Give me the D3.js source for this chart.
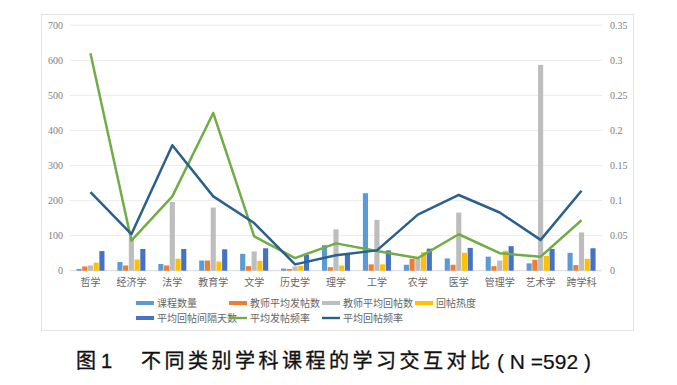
<!DOCTYPE html>
<html>
<head>
<meta charset="utf-8">
<script src="https://cdn.jsdelivr.net/npm/d3@7"></script>
<style>
  body { margin: 0; background: #fff; }
  svg { display: block; }
</style>
</head>
<body>
<svg id="chart" width="677" height="385"></svg>
<script>
const categories = ["哲学", "经济学", "法学", "教育学", "文学", "历史学", "理学", "工学", "农学", "医学", "管理学", "艺术学", "跨学科"];

// bar series (left axis)
const courseCount   = [5, 25, 19, 29, 48, 6, 73, 221, 17, 35, 40, 21, 51];
const teacherPosts  = [12, 15, 15, 29, 13, 5, 10, 18, 34, 17, 13, 31, 16];
const teacherReplies = [15, 95, 196, 180, 55, 12, 118, 145, 34, 166, 29, 587, 109];
const replyHeat     = [23, 32, 34, 26, 28, 14, 15, 18, 53, 51, 57, 42, 34];
const replyInterval = [56, 62, 62, 61, 64, 45, 50, 58, 63, 65, 70, 62, 64];

// line series (right axis)
const postFreq  = [0.310, 0.043, 0.106, 0.225, 0.049, 0.018, 0.039, 0.028, 0.018, 0.052, 0.025, 0.020, 0.072];
const replyFreq = [0.112, 0.052, 0.179, 0.106, 0.068, 0.009, 0.022, 0.029, 0.080, 0.108, 0.083, 0.044, 0.114];

const leftTicks = [0, 100, 200, 300, 400, 500, 600, 700];
const rightTicks = [0, 0.05, 0.1, 0.15, 0.2, 0.25, 0.3, 0.35];

const barSeries = [
  { name: "课程数量", values: courseCount, color: "#5B9BD5" },
  { name: "教师平均发帖数", values: teacherPosts, color: "#ED7D31" },
  { name: "教师平均回帖数", values: teacherReplies, color: "#BDBDBD" },
  { name: "回帖热度", values: replyHeat, color: "#FFC000" },
  { name: "平均回帖间隔天数", values: replyInterval, color: "#4472C4" }
];
const lineSeries = [
  { name: "平均发帖频率", values: postFreq, color: "#70AD47" },
  { name: "平均回帖频率", values: replyFreq, color: "#2B5F8C" }
];

const svg = d3.select("#chart");
const margin = { top: 25, right: 75, bottom: 114, left: 70 };
const width = 677, height = 385;

// outer frame
svg.append("rect")
  .attr("x", 41.5).attr("y", 14.5)
  .attr("width", 592).attr("height", 316)
  .attr("fill", "#fff")
  .attr("stroke", "#e3e3e3");

const x = d3.scaleBand()
  .domain(categories)
  .range([margin.left, width - margin.right])
  .paddingInner(0.3)
  .paddingOuter(0.15);

const xs = d3.scaleBand()
  .domain(barSeries.map(d => d.name))
  .range([0, x.bandwidth()]);

const yL = d3.scaleLinear().domain([0, 700]).range([270.7, 25.3]);
const yR = d3.scaleLinear().domain([0, 0.35]).range([270.7, 25.3]);

// gridlines
svg.append("g")
  .selectAll("line")
  .data(leftTicks)
  .join("line")
  .attr("x1", margin.left).attr("x2", width - margin.right)
  .attr("y1", d => yL(d)).attr("y2", d => yL(d))
  .attr("stroke", d => d === 0 ? "#d9d9d9" : "#ececec")
  .attr("stroke-width", 1);

// left axis
const axL = svg.append("g")
  .attr("transform", `translate(${margin.left - 5},0)`)
  .call(d3.axisLeft(yL).tickValues(leftTicks).tickSize(0).tickPadding(2));
axL.select(".domain").remove();
axL.selectAll("text")
  .attr("fill", "#808080")
  .style("font-family", "'Liberation Serif', serif")
  .style("font-size", "10px");

// right axis
const axR = svg.append("g")
  .attr("transform", `translate(${width - margin.right + 6},0)`)
  .call(d3.axisRight(yR).tickValues(rightTicks).tickSize(0).tickPadding(2).tickFormat(d => d3.format("")(+d.toFixed(2))));
axR.select(".domain").remove();
axR.selectAll("text")
  .attr("fill", "#808080")
  .style("font-family", "'Liberation Serif', serif")
  .style("font-size", "10px");

// x axis labels
const axX = svg.append("g")
  .attr("transform", `translate(0,${yL(0)})`)
  .call(d3.axisBottom(x).tickSize(0).tickPadding(8));
axX.select(".domain").remove();
axX.selectAll("text")
  .attr("fill", "#666")
  .style("font-family", "'Noto Sans CJK SC', sans-serif")
  .style("font-size", "10px");

// bars
const groups = svg.append("g")
  .selectAll("g")
  .data(categories)
  .join("g")
  .attr("transform", d => `translate(${x(d)},0)`);

groups.selectAll("rect")
  .data((c, i) => barSeries.map(s => ({ key: s.name, value: s.values[i], color: s.color })))
  .join("rect")
  .attr("x", d => xs(d.key) + 0.3)
  .attr("width", xs.bandwidth() - 0.6)
  .attr("y", d => yL(d.value))
  .attr("height", d => yL(0) - yL(d.value))
  .attr("fill", d => d.color);

// lines
const line = d3.line()
  .x((d, i) => x(categories[i]) + x.bandwidth() / 2)
  .y(d => yR(d));

lineSeries.forEach(s => {
  svg.append("path")
    .datum(s.values)
    .attr("fill", "none")
    .attr("stroke", s.color)
    .attr("stroke-width", 2.5)
    .attr("stroke-linejoin", "round")
    .attr("d", line);
});

// legend
const legendItems = [
  { name: "课程数量", color: "#5B9BD5", type: "bar" },
  { name: "教师平均发帖数", color: "#ED7D31", type: "bar" },
  { name: "教师平均回帖数", color: "#BDBDBD", type: "bar" },
  { name: "回帖热度", color: "#FFC000", type: "bar" },
  { name: "平均回帖间隔天数", color: "#4472C4", type: "bar" },
  { name: "平均发帖频率", color: "#70AD47", type: "line" },
  { name: "平均回帖频率", color: "#2B5F8C", type: "line" }
];
const legend = svg.append("g");
legendItems.forEach((d, i) => {
  const col = i % 4, row = Math.floor(i / 4);
  const lx = 136 + col * 93, ly = 303 + row * 15;
  const g = legend.append("g").attr("transform", `translate(${lx},${ly})`);
  g.append("rect")
    .attr("x", 0).attr("width", 18)
    .attr("y", d.type === "bar" ? -2 : -1.2)
    .attr("height", d.type === "bar" ? 4 : 2.4)
    .attr("fill", d.color);
  g.append("text")
    .attr("x", 21).attr("y", 0)
    .attr("dy", "0.35em")
    .attr("fill", "#666")
    .style("font-family", "'Noto Sans CJK SC', sans-serif")
    .style("font-size", "10px")
    .text(d.name);
});

// caption
const capStyle = sel => sel
  .attr("y", 361)
  .attr("dy", "0.36em")
  .attr("fill", "#111")
  .attr("stroke", "#111")
  .attr("stroke-width", 0.35)
  .style("font-size", "20px");

svg.append("text").call(capStyle)
  .attr("x", 76)
  .style("font-family", "'Noto Sans CJK SC', sans-serif")
  .text("图");
svg.append("text").call(capStyle)
  .attr("x", 101)
  .style("font-family", "'Liberation Sans', sans-serif")
  .text("1");
svg.append("text").call(capStyle)
  .attr("x", 141)
  .style("font-family", "'Noto Sans CJK SC', sans-serif")
  .style("letter-spacing", "3.5px")
  .text("不同类别学科课程的学习交互对比");
svg.append("text").call(capStyle)
  .attr("x", 497)
  .style("font-family", "'Liberation Sans', sans-serif")
  .attr("stroke-width", 0.2)
  .style("font-size", "21px")
  .text("( N =592 )");
</script>
</body>
</html>
